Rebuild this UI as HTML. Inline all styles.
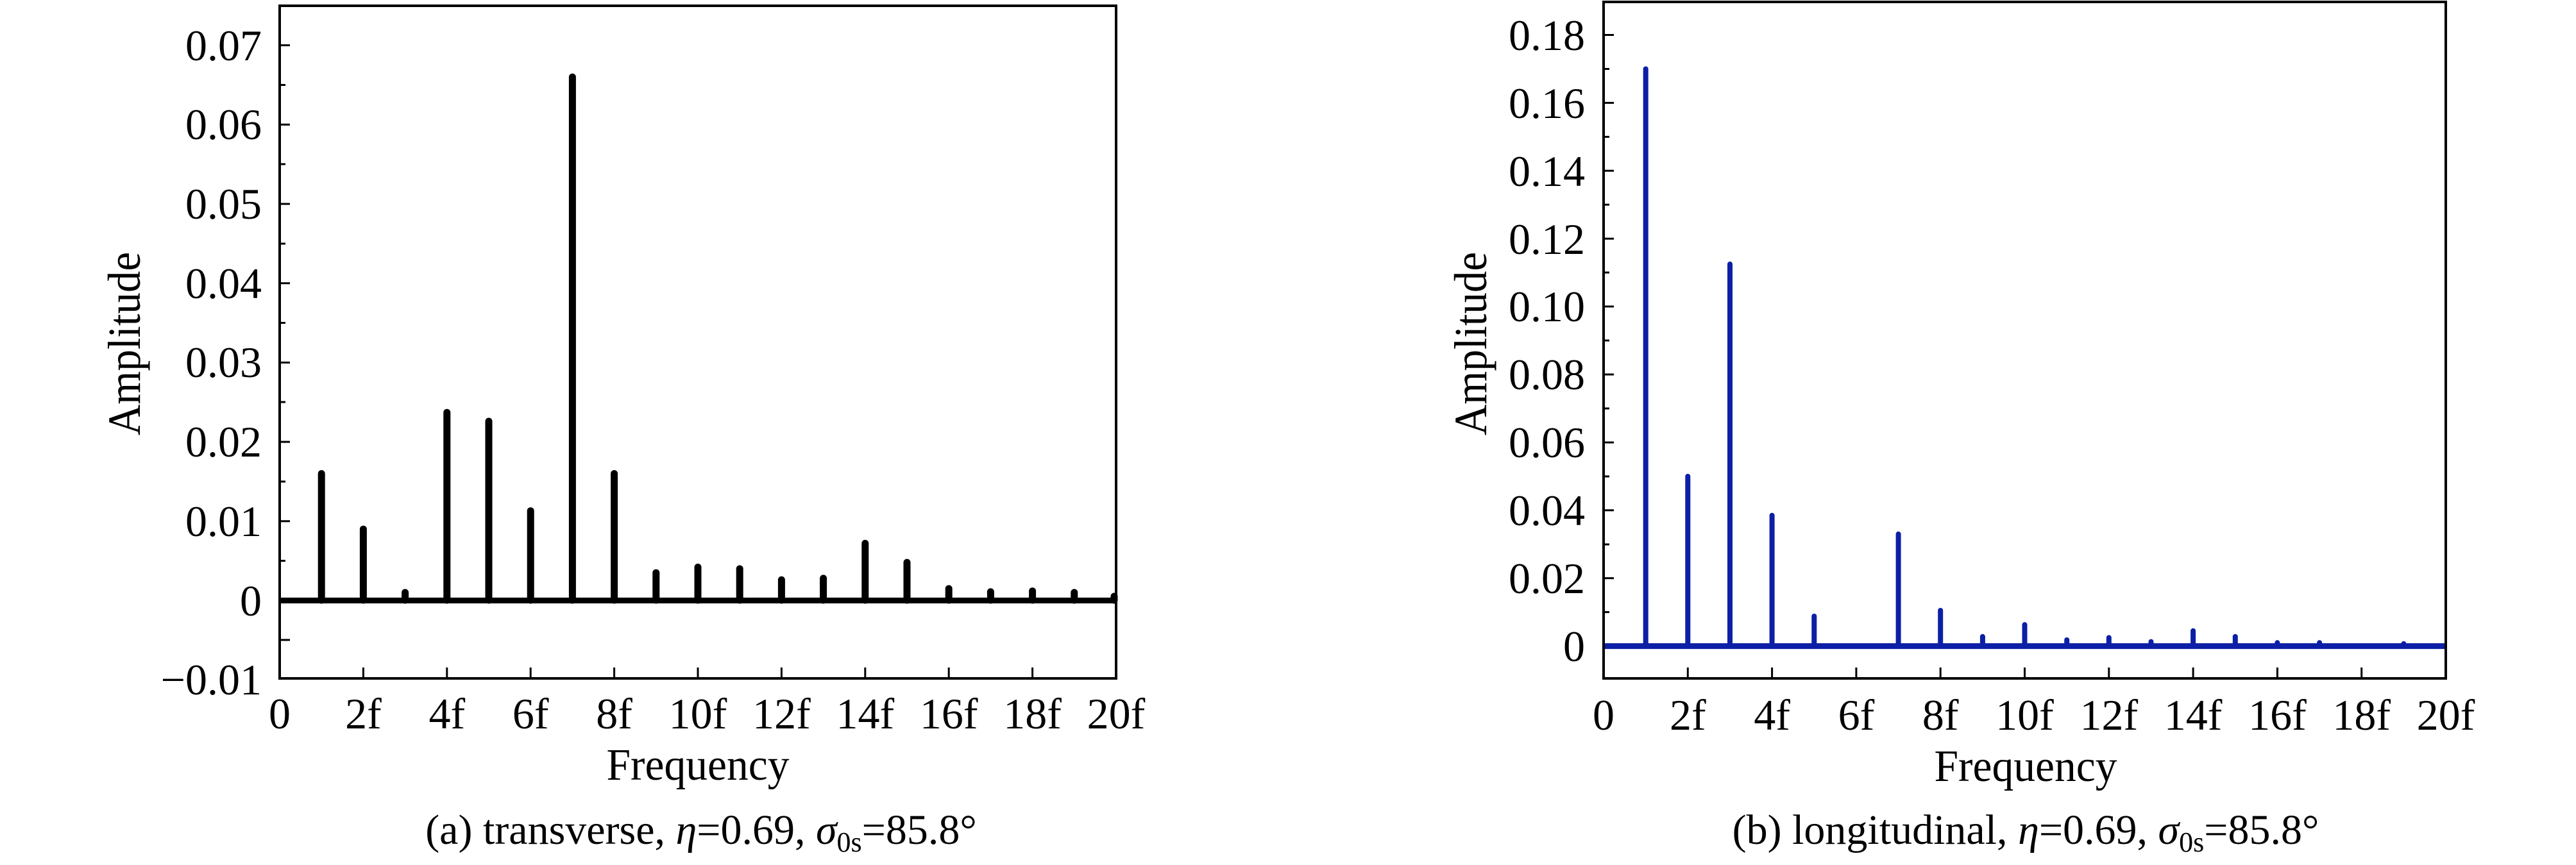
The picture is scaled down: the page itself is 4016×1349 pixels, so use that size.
<!DOCTYPE html>
<html><head><meta charset="utf-8"><style>html,body{margin:0;padding:0;background:#fff}svg{display:block}</style></head>
<body>
<svg width="4016" height="1349" viewBox="0 0 4016 1349" xmlns="http://www.w3.org/2000/svg" font-family="Liberation Serif, serif" font-size="68" fill="#000">
<!-- LEFT PANEL -->
<g stroke="#000" stroke-width="11" stroke-linecap="round">
<line x1="501.2" y1="936" x2="501.2" y2="738.6"/>
<line x1="566.4" y1="936" x2="566.4" y2="825.2"/>
<line x1="631.6" y1="936" x2="631.6" y2="924"/>
<line x1="696.8" y1="936" x2="696.8" y2="643.3"/>
<line x1="762" y1="936" x2="762" y2="657"/>
<line x1="827.2" y1="936" x2="827.2" y2="796.7"/>
<line x1="892.4" y1="936" x2="892.4" y2="120.1"/>
<line x1="957.6" y1="936" x2="957.6" y2="738.6"/>
<line x1="1022.8" y1="936" x2="1022.8" y2="893.2"/>
<line x1="1088" y1="936" x2="1088" y2="884.5"/>
<line x1="1153.2" y1="936" x2="1153.2" y2="887"/>
<line x1="1218.4" y1="936" x2="1218.4" y2="904.3"/>
<line x1="1283.6" y1="936" x2="1283.6" y2="901.9"/>
<line x1="1348.8" y1="936" x2="1348.8" y2="847.4"/>
<line x1="1414" y1="936" x2="1414" y2="877.1"/>
<line x1="1479.2" y1="936" x2="1479.2" y2="918"/>
<line x1="1544.4" y1="936" x2="1544.4" y2="922.9"/>
<line x1="1609.6" y1="936" x2="1609.6" y2="921.7"/>
<line x1="1674.8" y1="936" x2="1674.8" y2="924"/>
<line x1="1737" y1="936" x2="1737" y2="930"/>
</g>
<line x1="436" y1="936.5" x2="1740" y2="936.5" stroke="#000" stroke-width="9"/>
<rect x="436" y="9" width="1304" height="1049" fill="none" stroke="#000" stroke-width="4"/>
<g stroke="#000" stroke-width="3">
<line x1="436" y1="70.6" x2="452" y2="70.6"/><line x1="436" y1="194.3" x2="452" y2="194.3"/><line x1="436" y1="318" x2="452" y2="318"/><line x1="436" y1="441.7" x2="452" y2="441.7"/><line x1="436" y1="565.4" x2="452" y2="565.4"/><line x1="436" y1="689.1" x2="452" y2="689.1"/><line x1="436" y1="812.8" x2="452" y2="812.8"/><line x1="436" y1="998" x2="452" y2="998"/>
<line x1="436" y1="132.5" x2="445" y2="132.5"/><line x1="436" y1="256" x2="445" y2="256"/><line x1="436" y1="380" x2="445" y2="380"/><line x1="436" y1="503.5" x2="445" y2="503.5"/><line x1="436" y1="627" x2="445" y2="627"/><line x1="436" y1="751" x2="445" y2="751"/><line x1="436" y1="874.6" x2="445" y2="874.6"/>
<line x1="566.4" y1="1058" x2="566.4" y2="1041"/><line x1="696.8" y1="1058" x2="696.8" y2="1041"/><line x1="827.2" y1="1058" x2="827.2" y2="1041"/><line x1="957.6" y1="1058" x2="957.6" y2="1041"/><line x1="1088" y1="1058" x2="1088" y2="1041"/><line x1="1218.4" y1="1058" x2="1218.4" y2="1041"/><line x1="1348.8" y1="1058" x2="1348.8" y2="1041"/><line x1="1479.2" y1="1058" x2="1479.2" y2="1041"/><line x1="1609.6" y1="1058" x2="1609.6" y2="1041"/>
</g>
<g text-anchor="end">
<text x="408" y="94">0.07</text><text x="408" y="217">0.06</text><text x="408" y="341">0.05</text><text x="408" y="465">0.04</text><text x="408" y="588">0.03</text><text x="408" y="712">0.02</text><text x="408" y="836">0.01</text><text x="408" y="960">0</text><text x="408" y="1083">−0.01</text>
</g>
<g text-anchor="middle">
<text x="436" y="1136">0</text><text x="566.4" y="1136">2f</text><text x="696.8" y="1136">4f</text><text x="827.2" y="1136">6f</text><text x="957.6" y="1136">8f</text><text x="1088" y="1136">10f</text><text x="1218.4" y="1136">12f</text><text x="1348.8" y="1136">14f</text><text x="1479.2" y="1136">16f</text><text x="1609.6" y="1136">18f</text><text x="1740" y="1136">20f</text>
<text x="1088" y="1216" font-size="70" textLength="285" lengthAdjust="spacingAndGlyphs">Frequency</text>
<text transform="translate(218,536) rotate(-90)" font-size="72" textLength="286" lengthAdjust="spacingAndGlyphs">Amplitude</text>
<text x="1093" y="1316" font-size="66">(a) transverse, <tspan font-style="italic">η</tspan>=0.69, <tspan font-style="italic">σ</tspan><tspan font-size="44" dy="12">0s</tspan><tspan dy="-12">=85.8°</tspan></text>
</g>

<!-- RIGHT PANEL -->
<g stroke="#0c1fa6" stroke-width="8" stroke-linecap="round">
<line x1="2565.7" y1="1007" x2="2565.7" y2="107.5"/>
<line x1="2631.3" y1="1007" x2="2631.3" y2="742.9"/>
<line x1="2697" y1="1007" x2="2697" y2="411.9"/>
<line x1="2762.6" y1="1007" x2="2762.6" y2="803.7"/>
<line x1="2828.3" y1="1007" x2="2828.3" y2="961"/>
<line x1="2959.6" y1="1007" x2="2959.6" y2="832.9"/>
<line x1="3025.2" y1="1007" x2="3025.2" y2="952"/>
<line x1="3090.9" y1="1007" x2="3090.9" y2="992.8"/>
<line x1="3156.5" y1="1007" x2="3156.5" y2="974.2"/>
<line x1="3222.2" y1="1007" x2="3222.2" y2="998"/>
<line x1="3287.8" y1="1007" x2="3287.8" y2="994.4"/>
<line x1="3353.5" y1="1007" x2="3353.5" y2="1000.7"/>
<line x1="3419.1" y1="1007" x2="3419.1" y2="983.8"/>
<line x1="3484.8" y1="1007" x2="3484.8" y2="992.8"/>
<line x1="3550.4" y1="1007" x2="3550.4" y2="1002.3"/>
<line x1="3616.1" y1="1007" x2="3616.1" y2="1002.3"/>
<line x1="3747.4" y1="1007" x2="3747.4" y2="1003.9"/>
</g>
<line x1="2500" y1="1007.6" x2="3813" y2="1007.6" stroke="#0c1fa6" stroke-width="9"/>
<rect x="2500" y="3" width="1313" height="1055" fill="none" stroke="#000" stroke-width="4"/>
<g stroke="#000" stroke-width="3">
<line x1="2500" y1="54.5" x2="2516" y2="54.5"/><line x1="2500" y1="160.4" x2="2516" y2="160.4"/><line x1="2500" y1="266.3" x2="2516" y2="266.3"/><line x1="2500" y1="372.2" x2="2516" y2="372.2"/><line x1="2500" y1="478" x2="2516" y2="478"/><line x1="2500" y1="584" x2="2516" y2="584"/><line x1="2500" y1="690" x2="2516" y2="690"/><line x1="2500" y1="795.8" x2="2516" y2="795.8"/><line x1="2500" y1="901.7" x2="2516" y2="901.7"/>
<line x1="2500" y1="107.5" x2="2509" y2="107.5"/><line x1="2500" y1="213.4" x2="2509" y2="213.4"/><line x1="2500" y1="319.2" x2="2509" y2="319.2"/><line x1="2500" y1="425" x2="2509" y2="425"/><line x1="2500" y1="531" x2="2509" y2="531"/><line x1="2500" y1="637" x2="2509" y2="637"/><line x1="2500" y1="743" x2="2509" y2="743"/><line x1="2500" y1="849" x2="2509" y2="849"/><line x1="2500" y1="954.6" x2="2509" y2="954.6"/>
<line x1="2631.3" y1="1058" x2="2631.3" y2="1041"/><line x1="2762.6" y1="1058" x2="2762.6" y2="1041"/><line x1="2893.9" y1="1058" x2="2893.9" y2="1041"/><line x1="3025.2" y1="1058" x2="3025.2" y2="1041"/><line x1="3156.5" y1="1058" x2="3156.5" y2="1041"/><line x1="3287.8" y1="1058" x2="3287.8" y2="1041"/><line x1="3419.1" y1="1058" x2="3419.1" y2="1041"/><line x1="3550.4" y1="1058" x2="3550.4" y2="1041"/><line x1="3681.7" y1="1058" x2="3681.7" y2="1041"/>
</g>
<g text-anchor="end">
<text x="2471" y="78">0.18</text><text x="2471" y="184">0.16</text><text x="2471" y="290">0.14</text><text x="2471" y="396">0.12</text><text x="2471" y="501">0.10</text><text x="2471" y="607">0.08</text><text x="2471" y="713">0.06</text><text x="2471" y="819">0.04</text><text x="2471" y="925">0.02</text><text x="2471" y="1031">0</text>
</g>
<g text-anchor="middle">
<text x="2500" y="1138">0</text><text x="2631.3" y="1138">2f</text><text x="2762.6" y="1138">4f</text><text x="2893.9" y="1138">6f</text><text x="3025.2" y="1138">8f</text><text x="3156.5" y="1138">10f</text><text x="3287.8" y="1138">12f</text><text x="3419.1" y="1138">14f</text><text x="3550.4" y="1138">16f</text><text x="3681.7" y="1138">18f</text><text x="3813" y="1138">20f</text>
<text x="3158" y="1218" font-size="70" textLength="285" lengthAdjust="spacingAndGlyphs">Frequency</text>
<text transform="translate(2317,536) rotate(-90)" font-size="72" textLength="286" lengthAdjust="spacingAndGlyphs">Amplitude</text>
<text x="3158" y="1316" font-size="66">(b) longitudinal, <tspan font-style="italic">η</tspan>=0.69, <tspan font-style="italic">σ</tspan><tspan font-size="44" dy="12">0s</tspan><tspan dy="-12">=85.8°</tspan></text>
</g>
</svg>
</body></html>
